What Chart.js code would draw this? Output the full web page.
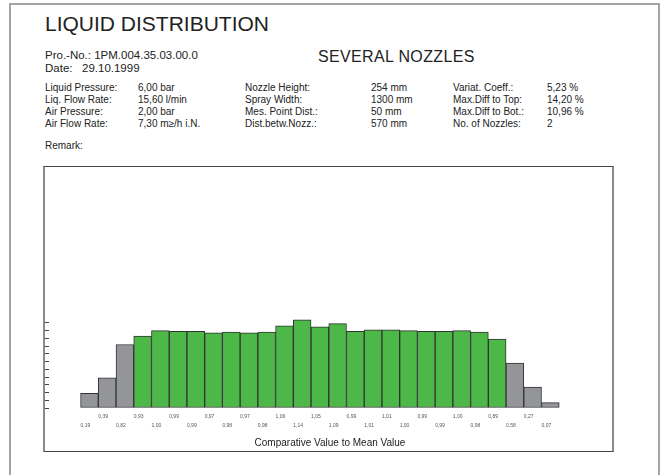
<!DOCTYPE html>
<html>
<head>
<meta charset="utf-8">
<script src="https://cdn.jsdelivr.net/npm/chart.js@4.4.1/dist/chart.umd.min.js"></script>
<style>
  body { margin: 0; background: #fff; font-family: "Liberation Sans", Arial, sans-serif; color: #222; }
  #page { position: absolute; left: 9px; top: 3px; width: 651px; height: 520px; box-sizing: border-box;
          border: 2px solid #a4a4a6; border-bottom: none; }
  .t { position: absolute; white-space: nowrap; line-height: 1; }
  .p { font-size: 10px; }
  #box { position: absolute; left: 43px; top: 166px; width: 571px; height: 286px; box-sizing: border-box;
         border: 1px solid #444; border-left: 2px solid #8a8a8a; border-right: 2px solid #8a8a8a; }
  #wrap { position: absolute; left: 45px; top: 168px; width: 566px; height: 282px; }
</style>
</head>
<body>
<div id="page"></div>
<div class="t" style="left:45px;top:13px;font-size:21px">LIQUID DISTRIBUTION</div>
<div class="t" style="left:45px;top:50px;font-size:11.5px">Pro.-No.: 1PM.004.35.03.00.0</div>
<div class="t" style="left:45px;top:63px;font-size:11.5px">Date:</div>
<div class="t" style="left:82px;top:63px;font-size:11.5px">29.10.1999</div>
<div class="t" style="left:318px;top:49px;font-size:16px;letter-spacing:0.35px">SEVERAL NOZZLES</div>
<div id="params"></div>
<div class="t p" style="left:45px;top:141px">Remark:</div>
<div id="box"></div>
<div id="wrap"><canvas id="chart" width="566" height="282"></canvas></div>
<script>
// measured values, one per measuring point (comparative value to mean value)
const values = [0.19, 0.39, 0.82, 0.93, 1.00, 0.99, 0.99, 0.97, 0.98, 0.97, 0.98, 1.06, 1.14, 1.05,
                1.09, 0.99, 1.01, 1.01, 1.00, 0.99, 0.99, 1.00, 0.98, 0.89, 0.58, 0.27, 0.07];
const tickLabels = values.map(v => v.toFixed(2).replace('.', ','));
const yTicks = [0, 0.1, 0.2, 0.3, 0.4, 0.5, 0.6, 0.7, 0.8, 0.9, 1.0, 1.1];

const paramLabels = [
    ['Liquid Pressure:', 'Liq. Flow Rate:', 'Air Pressure:', 'Air Flow Rate:'],
    ['Nozzle Height:', 'Spray Width:', 'Mes. Point Dist.:', 'Dist.betw.Nozz.:'],
    ['Variat. Coeff.:', 'Max.Diff to Top:', 'Max.Diff to Bot.:', 'No. of Nozzles:']
];
const paramValues = [
    ['6,00 bar', '15,60 l/min', '2,00 bar', '7,30 m\u2265/h i.N.'],
    ['254 mm', '1300 mm', '50 mm', '570 mm'],
    ['5,23 %', '14,20 %', '10,96 %', '2']
];

const colX = [[45, 138], [245, 371], [453, 547]];
const rowY = [83, 95, 107, 119];
let html = '';
paramLabels.forEach((col, c) => {
    col.forEach((label, r) => {
        html += '<div class="t p" style="left:' + colX[c][0] + 'px;top:' + rowY[r] + 'px">' + label + '</div>';
        html += '<div class="t p" style="left:' + colX[c][1] + 'px;top:' + rowY[r] + 'px">' + paramValues[c][r] + '</div>';
    });
});
document.getElementById('params').innerHTML = html;

const GREEN = '#4cb848';
const GREY = '#939598';

new Chart(document.getElementById('chart'), {
    type: 'bar',
    data: {
        datasets: [{
            data: values.map((v, i) => ({x: i, y: v})),
            backgroundColor: values.map(v => v >= 0.85 ? GREEN : GREY),
            borderColor: '#333',
            borderWidth: 1,
            borderSkipped: false,
            barPercentage: 1,
            categoryPercentage: 1
        }]
    },
    options: {
        responsive: false,
        animation: false,
        devicePixelRatio: 1,
        layout: {padding: 0},
        plugins: {legend: {display: false}, tooltip: {enabled: false}},
        scales: {
            x: {
                type: 'linear',
                offset: false,
                min: -2.28,
                max: 29.42,
                afterBuildTicks: scale => { scale.ticks = values.map((v, i) => ({value: i - 0.5})); },
                afterFit: scale => {
                    scale.height = 42;
                    scale.paddingLeft = 0;
                    scale.paddingRight = 0;
                },
                grid: {display: false, drawTicks: false},
                border: {display: false},
                ticks: {
                    autoSkip: false,
                    maxRotation: 0,
                    minRotation: 0,
                    align: 'start',
                    padding: 4.5,
                    color: '#555',
                    font: {family: 'Liberation Sans', size: 5, lineHeight: 1.72},
                    callback: (val, i) => i % 2 === 0 ? ['', tickLabels[i]] : [tickLabels[i], '']
                },
                title: {
                    display: true,
                    text: 'Comparative Value to Mean Value',
                    color: '#222',
                    font: {family: 'Liberation Sans', size: 10},
                    padding: {top: 0, bottom: 1}
                }
            },
            y: {
                min: 0,
                max: 3.1,
                afterBuildTicks: scale => { scale.ticks = yTicks.map(v => ({value: v})); },
                afterFit: scale => { scale.width = 4; },
                ticks: {display: false},
                grid: {drawOnChartArea: false, drawTicks: true, tickLength: 4, color: '#444'},
                border: {display: false}
            }
        }
    }
});
</script>
</body>
</html>
